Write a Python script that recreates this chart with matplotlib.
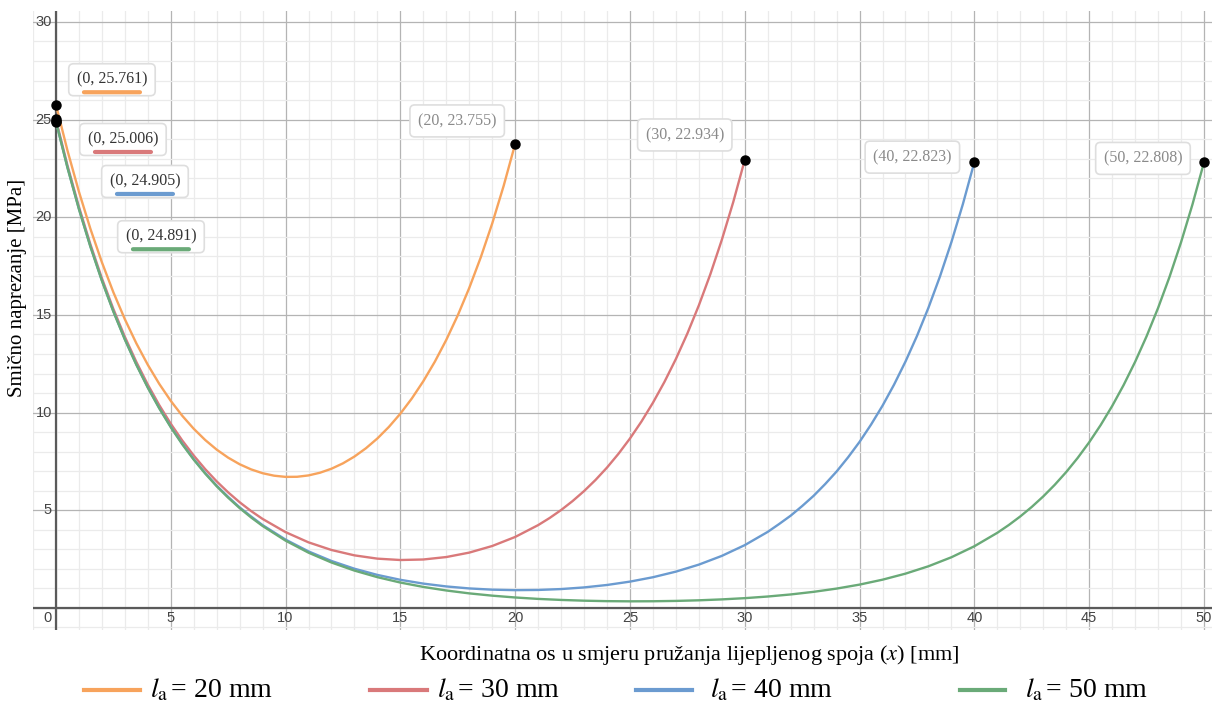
import numpy as np
import matplotlib
matplotlib.use("Agg")
import matplotlib.pyplot as plt
from matplotlib.lines import Line2D
from matplotlib.transforms import offset_copy

plt.rcParams['font.family'] = ['Liberation Serif', 'DejaVu Serif']
plt.rcParams['mathtext.fontset'] = 'stix'

# overlap lengths and colours
lengths = [20, 30, 40, 50]
colors = ['#f7a35c', '#d9797a', '#6b9bd0', '#6aaa78']

# shear stress along the overlap (MPa)
x20 = [0, 0.5, 1, 1.5, 2, 2.5, 3, 3.5, 4, 4.5, 5, 5.5, 6, 6.5, 7, 7.5, 8, 8.5, 9, 9.5, 10,
       10.5, 11, 11.5, 12, 12.5, 13, 13.5, 14, 14.5, 15, 15.5, 16, 16.5, 17, 17.5, 18, 18.5, 19, 19.5, 20]
y20 = [25.761, 23.421, 21.310, 19.409, 17.698, 16.161, 14.782, 13.548, 12.447, 11.468, 10.601, 9.839,
       9.173, 8.597, 8.105, 7.693, 7.356, 7.092, 6.897, 6.770, 6.709, 6.714, 6.784, 6.922, 7.127, 7.402,
       7.750, 8.174, 8.677, 9.267, 9.946, 10.724, 11.607, 12.603, 13.723, 14.978, 16.380, 17.942, 19.680,
       21.612, 23.755]

x30 = [0, 0.5, 1, 1.5, 2, 2.5, 3, 3.5, 4, 4.5, 5, 5.5, 6, 6.5, 7, 7.5, 8, 8.5, 9, 10, 11, 12, 13, 14,
       15, 16, 17, 18, 19, 20, 21, 21.5, 22, 22.5, 23, 23.5, 24, 24.5, 25, 25.5, 26, 26.5, 27, 27.5,
       28, 28.5, 29, 29.5, 30]
y30 = [25.006, 22.661, 20.538, 18.617, 16.878, 15.305, 13.882, 12.595, 11.432, 10.381, 9.431, 8.574,
       7.802, 7.105, 6.479, 5.916, 5.411, 4.959, 4.556, 3.880, 3.357, 2.966, 2.691, 2.523, 2.453, 2.480,
       2.605, 2.832, 3.170, 3.633, 4.239, 4.603, 5.011, 5.470, 5.981, 6.552, 7.186, 7.892, 8.674, 9.542,
       10.503, 11.567, 12.745, 14.048, 15.488, 17.081, 18.841, 20.785, 22.934]

x40 = [0, 0.5, 1, 1.5, 2, 2.5, 3, 3.5, 4, 4.5, 5, 5.5, 6, 6.5, 7, 7.5, 8, 8.5, 9, 10, 11, 12, 13, 14,
       15, 16, 17, 18, 19, 20, 21, 22, 23, 24, 25, 26, 27, 28, 29, 30, 31, 31.5, 32, 32.5, 33, 33.5,
       34, 34.5, 35, 35.5, 36, 36.5, 37, 37.5, 38, 38.5, 39, 39.5, 40]
y40 = [24.905, 22.559, 20.435, 18.511, 16.768, 15.190, 13.761, 12.467, 11.295, 10.238, 9.273, 8.409,
       7.617, 6.911, 6.259, 5.684, 5.148, 4.681, 4.239, 3.498, 2.893, 2.403, 2.007, 1.690, 1.439, 1.245,
       1.100, 0.998, 0.935, 0.910, 0.920, 0.966, 1.050, 1.175, 1.347, 1.571, 1.858, 2.217, 2.664, 3.215,
       3.893, 4.299, 4.724, 5.216, 5.741, 6.339, 6.984, 7.711, 8.502, 9.386, 10.353, 11.427, 12.613,
       13.922, 15.368, 16.964, 18.727, 20.674, 22.823]

x50 = [0, 0.5, 1, 1.5, 2, 2.5, 3, 3.5, 4, 4.5, 5, 5.5, 6, 6.5, 7, 7.5, 8, 8.5, 9, 10, 11, 12, 13, 14,
       15, 16, 17, 18, 19, 20, 21, 22, 23, 24, 25, 26, 27, 28, 29, 30, 31, 32, 33, 34, 35, 36, 37, 38,
       39, 40, 41, 41.5, 42, 42.5, 43, 43.5, 44, 44.5, 45, 45.5, 46, 46.5, 47, 47.5, 48, 48.5, 49, 49.5, 50]
y50 = [24.891, 22.544, 20.419, 18.495, 16.751, 15.173, 13.743, 12.449, 11.276, 10.214, 9.252, 8.380,
       7.591, 6.876, 6.229, 5.643, 5.112, 4.631, 4.196, 3.445, 2.829, 2.325, 1.912, 1.575, 1.299, 1.075,
       0.893, 0.745, 0.628, 0.535, 0.462, 0.409, 0.371, 0.347, 0.338, 0.342, 0.359, 0.390, 0.437, 0.500,
       0.584, 0.690, 0.824, 0.990, 1.194, 1.446, 1.755, 2.133, 2.594, 3.158, 3.846, 4.245, 4.685, 5.171,
       5.708, 6.302, 6.956, 7.680, 8.478, 9.360, 10.333, 11.408, 12.595, 13.905, 15.351, 16.948, 18.712,
       20.659, 22.808]

xs = [x20, x30, x40, x50]
ys = [y20, y30, y40, y50]

# label offsets in pixels (start label, end label)
start_off = [(56, 25), (67, -20), (89, -60), (105, -115)]
end_off = [(-58, 23), (-60, 25), (-62, 5), (-61, 4)]

fig = plt.figure(figsize=(12.13, 7.04), dpi=100)
ax = fig.add_axes([33 / 1213, 1 - 630 / 704, 1179 / 1213, 619 / 704])
ax.set_xlim(-1.0, 50.35)
ax.set_ylim(-1.13, 30.56)

ax.set_xticks(np.arange(0, 51, 5))
ax.set_xticks(np.arange(-1, 51, 1), minor=True)
ax.set_yticks(np.arange(0, 31, 5))
ax.set_yticks(np.arange(-1, 31, 1), minor=True)
ax.grid(which='major', color='#b4b4b4', lw=0.9)
ax.grid(which='minor', color='#ebebeb', lw=0.9)
ax.tick_params(which='both', length=0, labelbottom=False, labelleft=False)
for s in ax.spines.values():
    s.set_visible(False)
ax.set_axisbelow(True)
ax.axhline(0, color='#5a5a5a', lw=1.6, zorder=2)
ax.axvline(0, color='#5a5a5a', lw=1.6, zorder=2)

tick_font = dict(family='Liberation Sans', fontsize=10.5, color='#444444')
for v in np.arange(5, 51, 5):
    ax.annotate(str(v), (v, 0), xytext=(0, -10), textcoords='offset pixels',
                ha='center', va='center', **tick_font)
for v in np.arange(5, 31, 5):
    ax.annotate(str(v), (0, v), xytext=(-4, 0), textcoords='offset pixels',
                ha='right', va='center', **tick_font)
ax.annotate('0', (0, 0), xytext=(-4, -10), textcoords='offset pixels',
            ha='right', va='center', **tick_font)

box = dict(boxstyle='round,pad=0.5,rounding_size=0.3', fc='white', ec='#dedede', lw=1.2)
for x, y, c, so, eo in zip(xs, ys, colors, start_off, end_off):
    ax.plot(x, y, color=c, lw=1.7, zorder=3, solid_capstyle='round', solid_joinstyle='round')
    ax.plot([x[0], x[-1]], [y[0], y[-1]], 'o', color='black', ms=6.5, zorder=6)
    ax.annotate('(%g, %.3f)' % (x[0], y[0]), (x[0], y[0]), xytext=so, textcoords='offset pixels',
                ha='center', va='center', fontsize=11.5, color='#333333', bbox=box, zorder=7)
    t1 = offset_copy(ax.transData, fig=fig, x=so[0] - 28, y=so[1] - 12.5, units='dots')
    t2 = offset_copy(ax.transData, fig=fig, x=so[0] + 28, y=so[1] - 12.5, units='dots')
    ax.annotate('', xy=(x[0], y[0]), xycoords=t1, xytext=(x[0], y[0]), textcoords=t2,
                arrowprops=dict(arrowstyle='-', color=c, lw=3, shrinkA=0, shrinkB=0), zorder=8)
    ax.annotate('(%g, %.3f)' % (x[-1], y[-1]), (x[-1], y[-1]), xytext=eo, textcoords='offset pixels',
                ha='center', va='center', fontsize=11.5, color='#8a8a8a', bbox=box, zorder=7)

fig.text(18 / 1213, 1 - 288 / 704, 'Smično naprezanje [MPa]', rotation=90,
         ha='center', va='center', fontsize=15)
fig.text(689 / 1213, 1 - 655 / 704, 'Koordinatna os u smjeru pružanja lijepljenog spoja ($x$) [mm]',
         ha='center', va='center', fontsize=16)

# legend drawn along the bottom
handle_px = [(84, 140), (370, 427), (636, 692), (960, 1005)]
text_px = [150, 437, 710, 1025]
ly = 1 - 690 / 704
for L, c, (h0, h1), tx in zip(lengths, colors, handle_px, text_px):
    fig.add_artist(Line2D([h0 / 1213, h1 / 1213], [ly, ly], color=c, lw=3, transform=fig.transFigure))
    fig.text(tx / 1213, ly, r'$l_{\mathrm{a}}\,$= %d mm' % L, ha='left', va='center', fontsize=20)

fig.savefig('out.png', dpi=100)
